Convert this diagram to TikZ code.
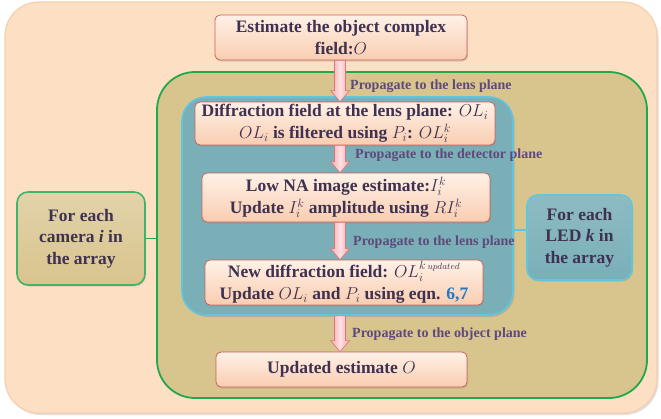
\documentclass[tikz,border=0pt]{standalone}
\usepackage{fontspec}
\setmainfont{Liberation Serif}
\usetikzlibrary{calc,shadows}
\definecolor{txt}{HTML}{3F3151}
\definecolor{lbl}{HTML}{5F497A}
\definecolor{peach}{HTML}{FDDFC4}
\definecolor{peachedge}{HTML}{F6CFAE}
\definecolor{khaki}{HTML}{D8C48D}
\definecolor{grn}{HTML}{1FA84C}
\definecolor{teal}{HTML}{7AAFB8}
\definecolor{tealedge}{HTML}{5FC6DF}
\definecolor{boxedge}{HTML}{C9625C}
\definecolor{boxtop}{HTML}{FFF1E7}
\definecolor{boxbot}{HTML}{F9CDB0}
\definecolor{arrfill}{HTML}{F7A9AE}
\definecolor{arredge}{HTML}{E0737A}
\definecolor{eqblue}{HTML}{1F78C8}
\tikzset{
  stepbox/.style={draw=boxedge, line width=0.8pt, rounded corners=5pt,
    top color=boxtop, bottom color=boxbot, text=txt, align=center,
    font=\fontsize{17.5}{22}\selectfont\bfseries, inner sep=0pt,
    drop shadow={shadow xshift=1pt, shadow yshift=-1.5pt, opacity=0.25}},
  sidebox/.style={line width=1.6pt, rounded corners=11pt, text=txt, align=center,
    font=\fontsize{17.5}{21.5}\selectfont\bfseries, inner sep=0pt,
    drop shadow={shadow xshift=1pt, shadow yshift=-1.5pt, opacity=0.25}},
  arrlabel/.style={text=lbl, font=\fontsize{14}{16}\selectfont\bfseries, anchor=west, inner sep=0pt},
  blockarr/.style={draw=arredge, line width=0.6pt, left color=arrfill, right color=arrfill, middle color=arrfill!35!white},
}
\newcommand\blockarrow[2]{%
  \path[blockarr] ([xshift=-5.5pt]#1) -- ([xshift=-5.5pt,yshift=11pt]#2) -- ([xshift=-9.5pt,yshift=11pt]#2) -- (#2) -- ([xshift=9.5pt,yshift=11pt]#2) -- ([xshift=5.5pt,yshift=11pt]#2) -- ([xshift=5.5pt]#1) -- cycle;}
\begin{document}
\begin{tikzpicture}[x=1pt,y=-1pt]
\useasboundingbox (0,0) rectangle (661,418);
\fill[white] (0,0) rectangle (661,418);
% outer
\node[draw=peachedge, line width=1.2pt, fill=peach, rounded corners=34pt, minimum width=652pt, minimum height=411pt, inner sep=0pt,
  drop shadow={shadow xshift=1.5pt, shadow yshift=-2pt, opacity=0.25}] (outer) at (331,207.5) {};
% green
\node[draw=grn, line width=1.8pt, fill=khaki, rounded corners=38pt, minimum width=490pt, minimum height=326pt, inner sep=0pt] (green) at (402,235) {};
% teal
\node[draw=tealedge, line width=1.6pt, fill=teal, rounded corners=24pt, minimum width=331pt, minimum height=218pt, inner sep=0pt,
  drop shadow={shadow xshift=1.5pt, shadow yshift=-2pt, opacity=0.3}] (tealbox) at (347.5,206) {};
% steps
\node[stepbox, minimum width=252pt, minimum height=45pt] (start) at (341,37.5) {Estimate the object complex\\field:$O$};
\node[stepbox, minimum width=300pt, minimum height=43pt] (diff) at (345,123.5) {Diffraction field at the lens plane: $OL_i$\\$OL_i$ is filtered using $P_i$: $OL_i^k$};
\node[stepbox, minimum width=288pt, minimum height=49pt] (lowna) at (346,197.5) {Low NA image estimate:$I_i^k$\\Update $I_i^k$ amplitude using $RI_i^k$};
\node[stepbox, minimum width=278pt, minimum height=45pt] (newdiff) at (344,282.5) {New diffraction field: $OL_i^{k\,\scriptscriptstyle updated}$\\Update $OL_i$ and $P_i$ using eqn. {\color{eqblue}6,7}};
\node[stepbox, minimum width=251pt, minimum height=35pt] (upd) at (341.5,369.5) {Updated estimate $O$};
% side boxes
\node[sidebox, draw=grn!85!white, top color=khaki!75!white, bottom color=khaki, minimum width=128pt, minimum height=93pt] (cam) at (81,238.5) {For each\\camera \textit{i} in\\the array};
\node[sidebox, draw=tealedge, top color=teal!85!white, bottom color=teal, minimum width=105pt, minimum height=85pt] (led) at (579.5,237.5) {For each\\LED \textit{k} in\\the array};
\draw[grn, line width=1.6pt] (cam.east) -- (cam.east -| green.west);
\coordinate (ledin) at (527,230);
\draw[tealedge, line width=1.6pt] (ledin) -- (ledin -| tealbox.east);
% arrows
\coordinate (ax) at (340,0);
\blockarrow{start.south -| ax}{diff.north -| ax}
\blockarrow{diff.south -| ax}{lowna.north -| ax}
\blockarrow{lowna.south -| ax}{newdiff.north -| ax}
\blockarrow{tealbox.south -| ax}{upd.north -| ax}
% labels
\node[arrlabel] (l1) at (350,86) {Propagate to the lens plane};
\node[arrlabel] (l2) at (355,155) {Propagate to the detector plane};
\node[arrlabel] (l3) at (353,242) {Propagate to the lens plane};
\node[arrlabel] (l4) at (352,334) {Propagate to the object plane};
\end{tikzpicture}
\end{document}
